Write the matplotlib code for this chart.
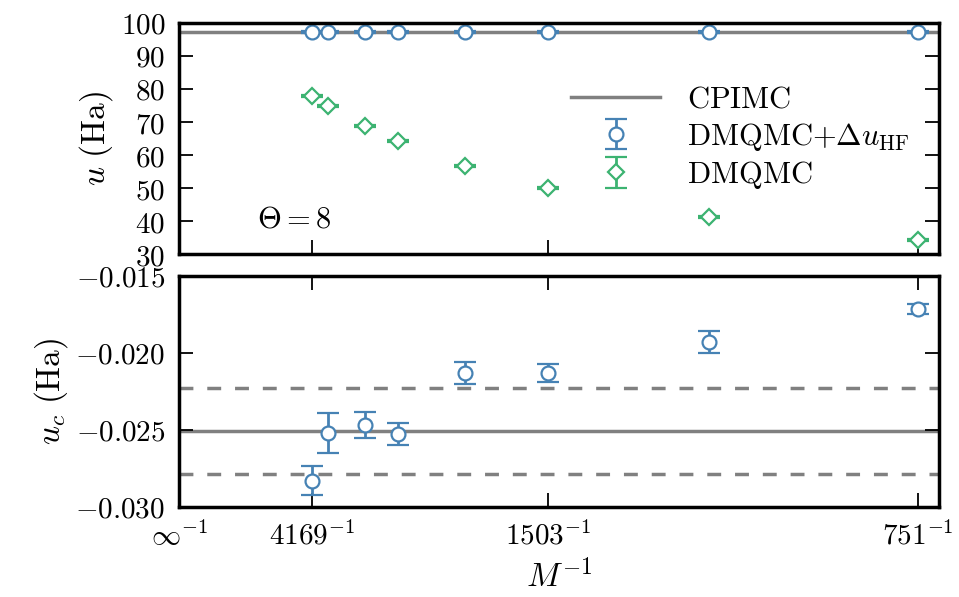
import matplotlib
matplotlib.use("Agg")
import matplotlib.pyplot as plt
from matplotlib.ticker import FuncFormatter, FixedLocator
import numpy as np

plt.rcParams['mathtext.fontset'] = 'cm'
plt.rcParams['font.family'] = 'serif'
plt.rcParams['font.serif'] = ['DejaVu Serif']

# Number of walkers / basis size M used for each simulation
M_values = [4169, 3719, 2979, 2530, 1944, 1503, 1048, 751]
tick_M = [4169, 1503, 751]

# Total internal energy (Ha)
u_dmqmc = [77.8, 74.7, 68.7, 64.1, 56.8, 50.1, 41.3, 34.2]
u_dmqmc_err = [0.3, 0.3, 0.3, 0.3, 0.3, 0.3, 0.3, 0.3]
u_dmqmc_hf = [97.2, 97.2, 97.2, 97.2, 97.2, 97.2, 97.2, 97.2]
u_dmqmc_hf_err = [0.3, 0.3, 0.3, 0.3, 0.3, 0.3, 0.3, 0.3]
u_cpimc = 97.4

# Correlation energy (Ha)
uc_dmqmc = [-0.02829, -0.02517, -0.02468, -0.02526, -0.02132, -0.02132, -0.01929, -0.01712]
uc_err = [0.00095, 0.00130, 0.00083, 0.00070, 0.00071, 0.00057, 0.00070, 0.00033]
uc_cpimc = -0.02508
uc_cpimc_err = 0.00279

theta_label = r'$\Theta = 8$'

blue = '#4682B4'
green = '#3CB371'
grey = '#808080'

inv_M = 1.0 / np.array(M_values, dtype=float)
tick_pos = [0.0] + [1.0 / m for m in tick_M]
tick_lbl = [r'$\infty^{-1}$'] + [r'$%d^{-1}$' % m for m in tick_M]

fig = plt.figure(figsize=(9.59, 5.97), dpi=100)
ax1 = fig.add_axes([0.1867, 0.5745, 0.7925, 0.387])
ax2 = fig.add_axes([0.1867, 0.1508, 0.7925, 0.387])

fs = 21
ebkw = dict(capsize=8, elinewidth=2, capthick=2, markeredgewidth=1.6,
            markerfacecolor='white', linestyle='none')

# Top panel: total energy
ax1.axhline(u_cpimc, color=grey, lw=2.5, label=r'$\mathrm{CPIMC}$', zorder=1)
ax1.errorbar(inv_M, u_dmqmc_hf, yerr=u_dmqmc_hf_err, marker='o', markersize=10,
             color=blue, markeredgecolor=blue,
             label=r'$\mathrm{DMQMC}{+}\Delta u_{\mathrm{HF}}$', **ebkw)
ax1.errorbar(inv_M, u_dmqmc, yerr=u_dmqmc_err, marker='D', markersize=8,
             color=green, markeredgecolor=green,
             label=r'$\mathrm{DMQMC}$', **ebkw)
ax1.set_ylim(30, 100)
ax1.set_yticks(np.arange(30, 101, 10))
ax1.yaxis.set_major_formatter(FuncFormatter(lambda v, p: r'$%d$' % v))
ax1.set_ylabel(r'$u\ (\mathrm{Ha})$', fontsize=fs + 3)
ax1.text(0.00014, 40.5, theta_label, fontsize=fs + 1, va='center')
leg = ax1.legend(loc='upper left', bbox_to_anchor=(0.5, 0.79), frameon=False,
                 fontsize=fs + 1, handlelength=2.9, handletextpad=0.9,
                 labelspacing=0.2, borderaxespad=0)

# Bottom panel: correlation energy
ax2.axhline(uc_cpimc, color=grey, lw=2.5, zorder=1)
ax2.axhline(uc_cpimc + uc_cpimc_err, color=grey, lw=2.5, ls=(0, (4, 4)), zorder=1)
ax2.axhline(uc_cpimc - uc_cpimc_err, color=grey, lw=2.5, ls=(0, (4, 4)), zorder=1)
ax2.errorbar(inv_M, uc_dmqmc, yerr=uc_err, marker='o', markersize=10,
             color=blue, markeredgecolor=blue, **ebkw)
ax2.set_ylim(-0.030, -0.015)
ax2.set_yticks([-0.030, -0.025, -0.020, -0.015])
ax2.yaxis.set_major_formatter(FuncFormatter(lambda v, p: r'$%.3f$' % v))
ax2.set_ylabel(r'$u_c\ (\mathrm{Ha})$', fontsize=fs + 3)
ax2.set_xlabel(r'$M^{-1}$', fontsize=fs + 3, labelpad=6)

xmax = 1.0 / 751 + 0.0000380
for ax in (ax1, ax2):
    ax.set_xlim(0, xmax)
    ax.xaxis.set_major_locator(FixedLocator(tick_pos))
    ax.tick_params(direction='in', top=True, right=True, length=10, width=1.3,
                   labelsize=fs, pad=10)
    for s in ax.spines.values():
        s.set_linewidth(2.5)
ax2.set_xticklabels(tick_lbl)
ax1.set_xticklabels([])

fig.savefig('out.png', dpi=100)
